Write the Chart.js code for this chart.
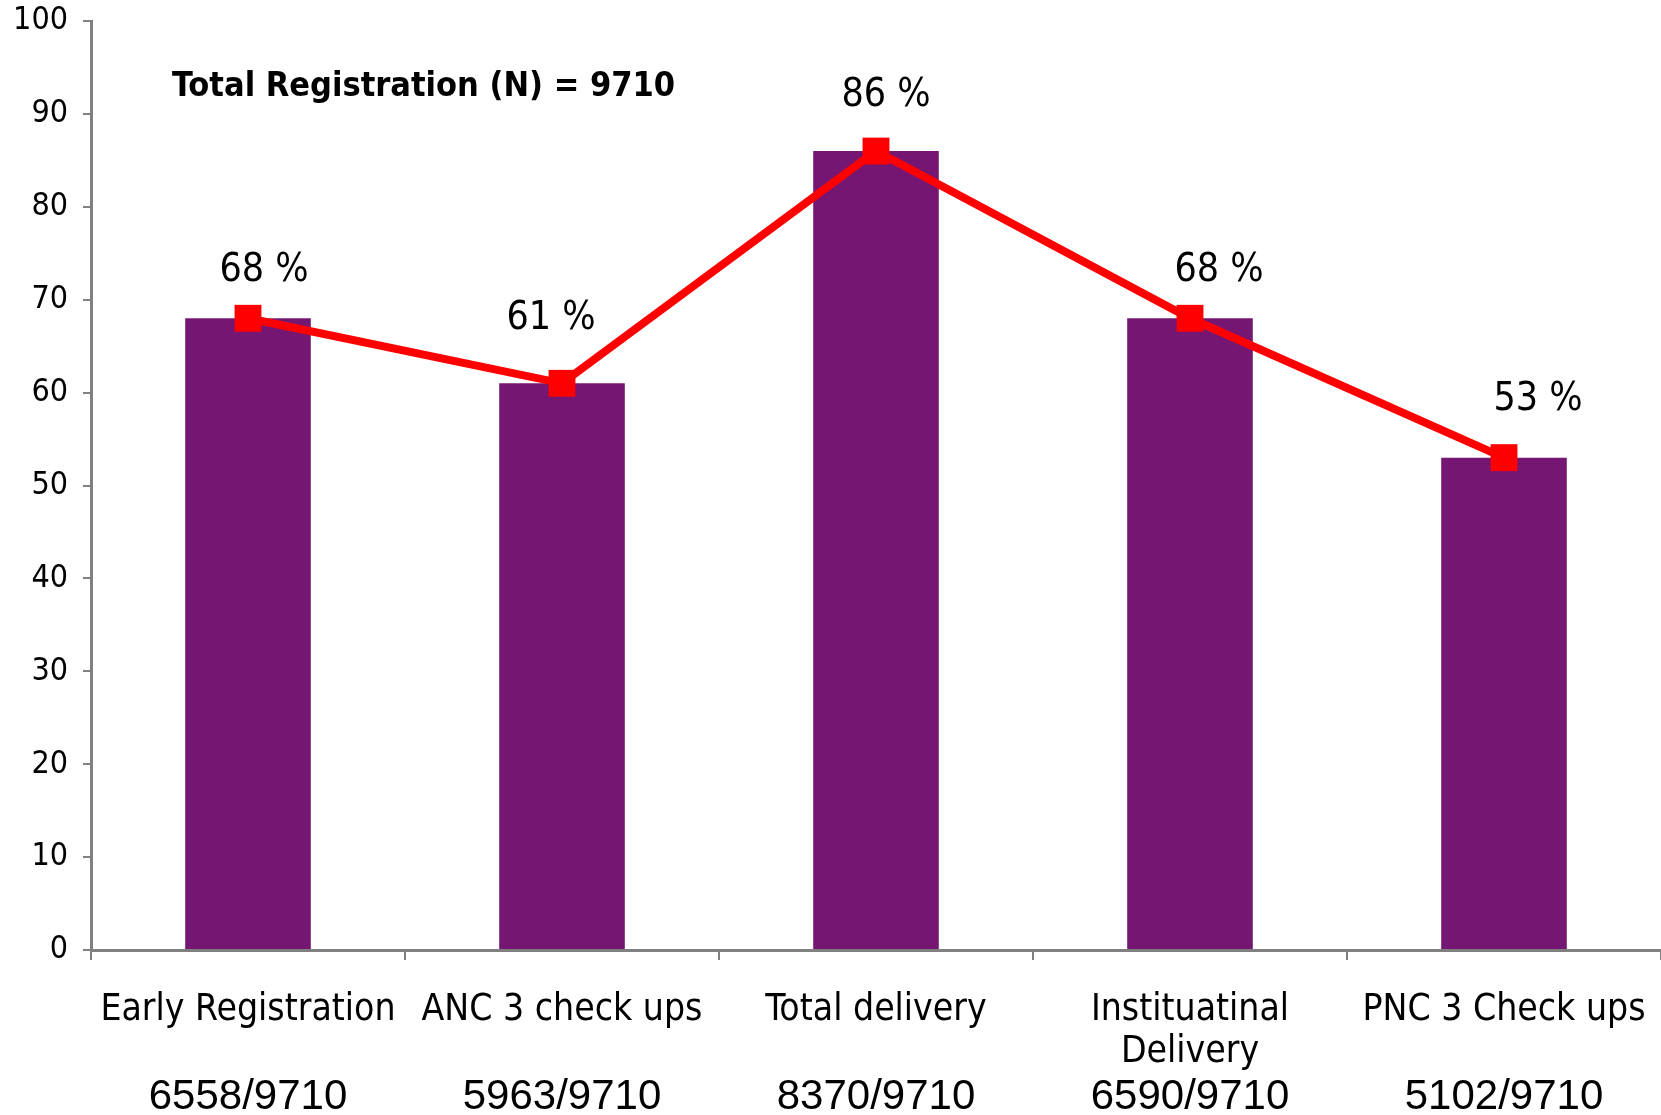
<!DOCTYPE html>
<html>
<head>
<meta charset="utf-8">
<script src="https://cdn.jsdelivr.net/npm/chart.js@4/dist/chart.umd.min.js"></script>
<style>
    html, body { margin: 0; padding: 0; background: #fff; }
    #wrap { width: 1661px; height: 1115px; }
</style>
</head>
<body>
<div id="wrap"><canvas id="mch"></canvas></div>
<script>
// chart data
const categories = ['Early Registration', 'ANC 3 check ups', 'Total delivery', ['Instituatinal', 'Delivery'], 'PNC 3 Check ups'];
const fractions = ['6558/9710', '5963/9710', '8370/9710', '6590/9710', '5102/9710'];
const percentValues = [68, 61, 86, 68, 53];
const yTicks = [0, 10, 20, 30, 40, 50, 60, 70, 80, 90, 100];
const noteText = 'Total Registration (N) = 9710';

const NARROW = "'Liberation Sans Narrow', 'DejaVu Sans Condensed', sans-serif";
const AXIS_GREY = '#808080';

// label nudges, like the hand placed labels in the original
const labelShift = [[16, -47], [-11, -64], [10, -55], [29, -47], [34, -58]];

const overlayText = {
    id: 'overlayText',
    afterDatasetsDraw(chart) {
        const ctx = chart.ctx;
        const area = chart.chartArea;
        ctx.save();
        ctx.fillStyle = '#000';
        ctx.textAlign = 'left';
        ctx.textBaseline = 'middle';
        ctx.font = 'bold 34px ' + NARROW;
        ctx.fillText(noteText, area.left + 81, area.top + 66);

        const pts = chart.getDatasetMeta(1).data;
        ctx.textAlign = 'center';
        ctx.font = '39px ' + NARROW;
        pts.forEach((p, i) => {
            const s = labelShift[i];
            ctx.fillText(percentValues[i] + ' %', p.x + s[0], p.y + s[1]);
        });
        ctx.restore();
    }
};

new Chart(document.getElementById('mch'), {
    data: {
        labels: categories,
        datasets: [{
            type: 'bar',
            data: percentValues,
            backgroundColor: '#761673',
            barPercentage: 0.4,
            categoryPercentage: 1,
            order: 2
        }, {
            type: 'line',
            data: percentValues,
            borderColor: '#ff0000',
            borderWidth: 8,
            pointStyle: 'rect',
            pointRadius: 19,
            pointHoverRadius: 19,
            pointBorderWidth: 0,
            pointBackgroundColor: '#ff0000',
            tension: 0,
            order: 1
        }]
    },
    options: {
        responsive: true,
        maintainAspectRatio: false,
        animation: false,
        layout: { autoPadding: false, padding: { top: 21, right: 0, bottom: 0, left: 0 } },
        plugins: {
            legend: { display: false },
            tooltip: { enabled: false }
        },
        scales: {
            x: {
                type: 'category',
                position: 'bottom',
                border: { display: true, color: AXIS_GREY, width: 3 },
                grid: { display: true, drawOnChartArea: false, offset: true, tickLength: 10, color: AXIS_GREY, lineWidth: 2 },
                ticks: { color: '#000', font: { family: NARROW, size: 37, lineHeight: 1.15 }, padding: 29, maxRotation: 0, autoSkip: false },
                afterFit(s) { s.height = 124; s.paddingLeft = 0; s.paddingRight = 0; }
            },
            x2: {
                type: 'category',
                position: 'bottom',
                labels: fractions,
                offset: true,
                border: { display: false },
                grid: { display: false },
                ticks: { color: '#000', font: { family: "'Liberation Sans', Arial, sans-serif", size: 42, lineHeight: 1 }, padding: -6, maxRotation: 0, autoSkip: false },
                afterFit(s) { s.height = 41; s.paddingLeft = 0; s.paddingRight = 0; }
            },
            y: {
                min: 0,
                max: 100,
                border: { display: true, color: AXIS_GREY, width: 3 },
                grid: { display: true, drawOnChartArea: false, tickLength: 8, color: AXIS_GREY, lineWidth: 2 },
                afterBuildTicks(s) { s.ticks = yTicks.map(v => ({ value: v })); },
                ticks: { color: '#000', font: { family: NARROW, size: 32 }, padding: 15 },
                afterFit(s) { s.width = 91; s.paddingTop = 0; s.paddingBottom = 0; }
            }
        }
    },
    plugins: [overlayText]
});
</script>
</body>
</html>
